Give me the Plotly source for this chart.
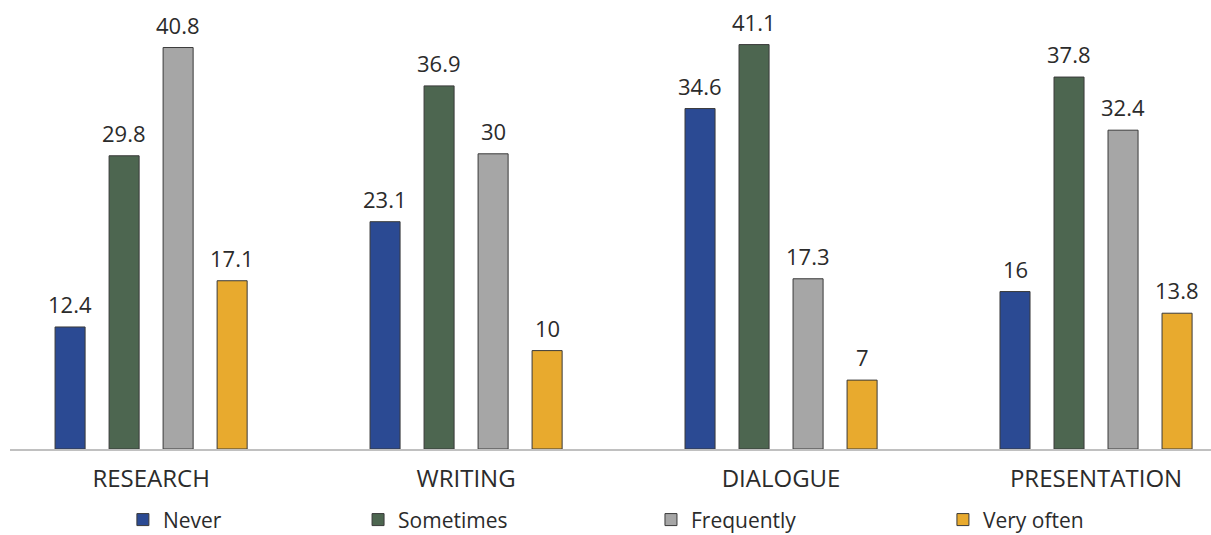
import plotly.graph_objects as go

categories = ["RESEARCH", "WRITING", "DIALOGUE", "PRESENTATION"]
never = [12.4, 23.1, 34.6, 16]
sometimes = [29.8, 36.9, 41.1, 37.8]
frequently = [40.8, 30, 17.3, 32.4]
very_often = [17.1, 10, 7, 13.8]

series_names = ["Never", "Sometimes", "Frequently", "Very often"]
series_values = [never, sometimes, frequently, very_often]
series_colors = ["#2B4A93", "#4D6650", "#A6A6A6", "#E8AA2E"]

FONT = "Open Sans"
TEXT_COLOR = "#2b2b2b"
BAR_STEP_PX = 54          # distance between neighbouring bars in a group
LEGEND_X = [0.094, 0.2898, 0.5337, 0.7768]

fig = go.Figure()
annotations = []
legend_layouts = {}
for i, (name, vals, color) in enumerate(zip(series_names, series_values, series_colors)):
    legend_id = "legend" if i == 0 else f"legend{i + 1}"
    fig.add_trace(go.Bar(
        name=name,
        x=categories,
        y=vals,
        marker=dict(color=color, line=dict(color="#3a3a3a", width=1)),
        legend=legend_id,
    ))
    legend_layouts[legend_id] = dict(
        orientation="h",
        x=LEGEND_X[i],
        xanchor="left",
        y=-0.158,
        yanchor="middle",
        font=dict(family=FONT, size=21, color=TEXT_COLOR),
        bgcolor="rgba(0,0,0,0)",
    )
    offset = (i - 1.5) * BAR_STEP_PX
    for cat, v in zip(categories, vals):
        annotations.append(dict(
            x=cat,
            y=v,
            xref="x",
            yref="y",
            text=f"{v:g}",
            showarrow=False,
            xshift=offset,
            yshift=6,
            yanchor="bottom",
            font=dict(family=FONT, size=22, color=TEXT_COLOR),
        ))

fig.update_layout(
    width=1211,
    height=535,
    margin=dict(l=10, r=0, t=0, b=86, autoexpand=False),
    paper_bgcolor="white",
    plot_bgcolor="white",
    barmode="group",
    bargap=0.314,
    bargroupgap=0.444,
    showlegend=True,
    annotations=annotations,
    xaxis=dict(
        range=[-0.448, 3.365],
        showline=True,
        linecolor="#c0c0c0",
        linewidth=2,
        ticks="",
        showgrid=False,
        tickfont=dict(family=FONT, size=24, color=TEXT_COLOR),
        ticklabelstandoff=7,
    ),
    yaxis=dict(
        range=[0, 45.63],
        visible=False,
        showgrid=False,
        zeroline=False,
    ),
    **legend_layouts,
)

fig.write_html("out.html")
